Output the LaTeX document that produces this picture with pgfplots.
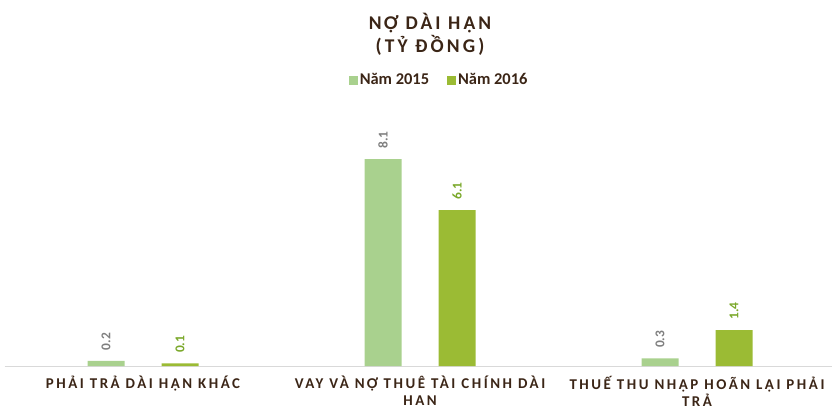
\documentclass[border=0pt]{standalone}
\usepackage{pgfplots}
\pgfplotsset{compat=1.18}
\usepackage{fontspec}
\setmainfont{Carlito}
\newfontfamily\spacedf[LetterSpace=17]{Carlito}
\newfontfamily\titlef[LetterSpace=16]{Carlito}
\definecolor{c15}{HTML}{A9D18E}
\definecolor{c16}{HTML}{9BBB34}
\definecolor{lab15}{HTML}{7F7F7F}
\definecolor{lab16}{HTML}{7AA82A}
\definecolor{ttl}{HTML}{3B2516}
\definecolor{axl}{HTML}{D9D9D9}
\begin{document}
\begin{tikzpicture}[x=1bp,y=1bp]
\useasboundingbox (0,0) rectangle (832,409);
\node[font=\titlef\bfseries\fontsize{19.5}{23}\selectfont, text=ttl, align=center] at (430,375) {NỢ DÀI HẠN\\(TỶ ĐỒNG)};
\begin{axis}[
  at={(4.5bp,43bp)}, anchor=south west,
  scale only axis, width=831bp, height=255.5bp,
  xmin=-0.5, xmax=2.5, ymin=0, ymax=10,
  axis x line*=bottom, hide y axis,
  x axis line style={draw=axl, line width=1bp, -},
  xtick={0,1,2}, xtick style={draw=none},
  xticklabels={{PHẢI TRẢ DÀI HẠN KHÁC},{VAY VÀ NỢ THUÊ TÀI CHÍNH DÀI\\HAN},{THUẾ THU NHẬP HOÃN LẠI PHẢI\\TRẢ}},
  xticklabel style={align=center, font=\spacedf\bfseries\fontsize{15}{17.5}\selectfont, text=ttl, anchor=north, yshift=-2bp},
  ybar, bar width=37bp,
  /pgf/number format/assume math mode=true,
  nodes near coords,
  nodes near coords style={rotate=90, anchor=west, xshift=7bp, font=\bfseries\fontsize{13.5}{13.5}\selectfont},
  legend style={at={(0.523,1.119)}, anchor=center, draw=none, fill=none, legend columns=2, font=\bfseries\fontsize{16.5}{16.5}\selectfont, text=ttl, /tikz/every even column/.append style={column sep=16bp}},
  legend image code/.code={\fill[#1] (0bp,-4.5bp) rectangle (9bp,4.5bp);},
]
\addplot[fill=c15, draw=none, bar shift=-37bp, nodes near coords style={text=lab15}] coordinates {(0,0.2) (1,8.1) (2,0.3)};
\addlegendentry{Năm 2015}
\addplot[fill=c16, draw=none, bar shift=37bp, nodes near coords style={text=lab16}] coordinates {(0,0.1) (1,6.1) (2,1.4)};
\addlegendentry{Năm 2016}
\end{axis}
\end{tikzpicture}
\end{document}
